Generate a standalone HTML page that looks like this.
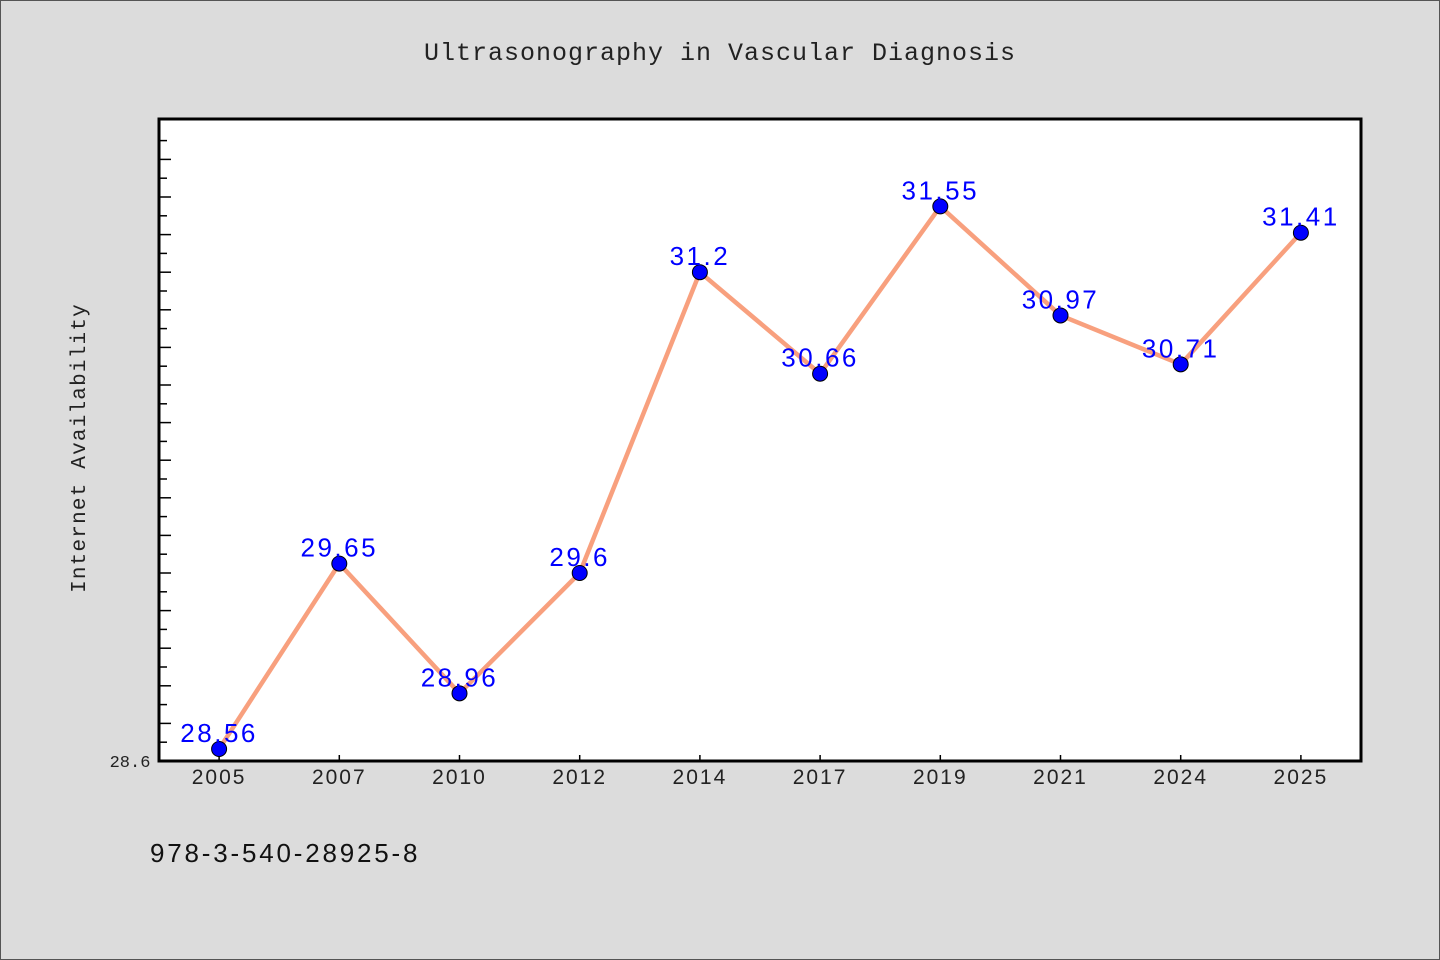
<!DOCTYPE html>
<html><head><meta charset="utf-8"><style>
body{margin:0;background:#dcdcdc;}
svg{display:block;font-family:"Liberation Mono","DejaVu Sans Mono",monospace;}
</style></head><body>
<svg id="chart" width="1440" height="960">
<rect x="0.5" y="0.5" width="1439" height="959" fill="#dcdcdc" stroke="#555"/>
<text x="720" y="60" text-anchor="middle" font-size="25" letter-spacing="1" fill="#222">Ultrasonography in Vascular Diagnosis</text>
<rect x="159" y="119" width="1202" height="642" fill="#fff"/>
<g id="ticks"></g>
<g id="series"></g>
<rect x="159" y="119" width="1202" height="642" fill="none" stroke="#000" stroke-width="3"/>
<text x="85" y="448" transform="rotate(-90 85 448)" text-anchor="middle" font-size="21" letter-spacing="1.2" fill="#222">Internet Availability</text>
<text x="130" y="767" text-anchor="middle" font-size="17" fill="#222">28.6</text>
<text x="150" y="862" font-size="26" letter-spacing="2.8" fill="#111" font-family="Liberation Sans, sans-serif">978-3-540-28925-8</text>
</svg>
<script>
const categories=["2005","2007","2010","2012","2014","2017","2019","2021","2024","2025"];
const values=[28.56,29.65,28.96,29.6,31.2,30.66,31.55,30.97,30.71,31.41];
const yMin=28.6, pxPerUnit=188;
const L=159,R=1361,T=119,B=761;
const band=(R-L)/categories.length;
const NS="http://www.w3.org/2000/svg";
function xs(i){return L+band*(i+0.5);}
function ys(v){return B-(v-yMin)*pxPerUnit;}
function mk(t,a){const e=document.createElementNS(NS,t);for(const k in a)e.setAttribute(k,a[k]);return e;}
const tg=document.getElementById('ticks'), sg=document.getElementById('series');
for(let k=1;;k++){const y=ys(yMin+k*0.1);if(y<T+5)break;
 const e=mk('line',{x1:L,x2:L+(k%2?8:12),y1:y,y2:y,stroke:'#000','stroke-width':1.5});
 
 
 tg.appendChild(e);}
categories.forEach((c,i)=>{
 const x=xs(i);
 const t=mk('line',{x1:x,x2:x,y1:B,y2:B-6,stroke:'#000','stroke-width':1.5});
 
 
 tg.appendChild(t);
 const l=mk('text',{x:x,y:B+23,'text-anchor':'middle','font-size':21,'letter-spacing':2,fill:'#222','font-family':'Liberation Sans, sans-serif'});
 l.textContent=c;
 
 
 tg.appendChild(l);
});
const py=v=>Math.min(ys(v),B-12);
const pts=values.map((v,i)=>xs(i)+','+py(v)).join(' ');
const line=mk('polyline',{points:pts,fill:'none',stroke:'#f8a07e','stroke-width':4.5,'stroke-linejoin':'round'});


sg.appendChild(line);
values.forEach((v,i)=>{
 const c=mk('circle',{cx:xs(i),cy:py(v),r:7.5,fill:'#0000ff',stroke:'#000','stroke-width':1});
 
 
 sg.appendChild(c);
});
values.forEach((v,i)=>{
 const t=mk('text',{x:xs(i),y:py(v)-7,'text-anchor':'middle','font-size':26,'letter-spacing':2.5,fill:'#0000ff','font-family':'Liberation Sans, sans-serif'});
 t.textContent=String(v);
 
 
 sg.appendChild(t);
});
</script>
</body></html>
